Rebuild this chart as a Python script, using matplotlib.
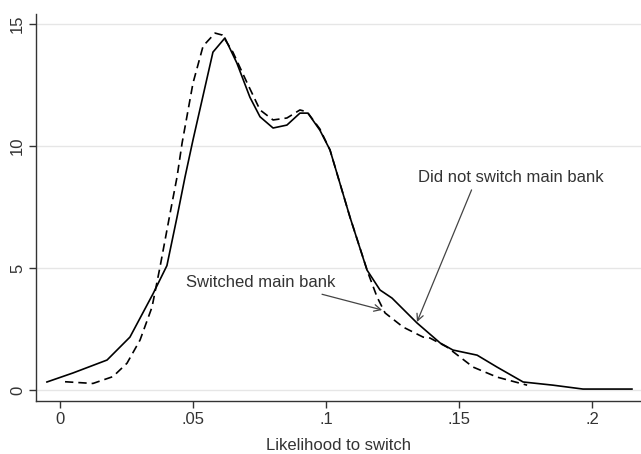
import matplotlib.pyplot as plt

plt.rcParams['font.family'] = ['Liberation Sans', 'DejaVu Sans']

# kernel density, did not switch main bank (solid)
x_stay = [-0.0049, 0.0049, 0.0177, 0.0263, 0.035, 0.0402, 0.044, 0.047, 0.05,
          0.0575, 0.062, 0.0665, 0.0714, 0.0752, 0.0801, 0.0853, 0.0902, 0.0932,
          0.0977, 0.1015, 0.109, 0.1154, 0.1203, 0.1248, 0.1342, 0.1429, 0.1477,
          0.1568, 0.1643, 0.1741, 0.1853, 0.1966, 0.215]
y_stay = [0.33, 0.70, 1.23, 2.17, 3.95, 5.1, 7.09, 8.73, 10.25,
          13.85, 14.43, 13.4, 12.0, 11.2, 10.74, 10.86, 11.35, 11.35,
          10.65, 9.84, 7.09, 4.92, 4.10, 3.77, 2.75, 1.93, 1.64,
          1.43, 0.94, 0.33, 0.2, 0.04, 0.04]

# switched main bank (dashed)
x_switch = [0.0019, 0.0124, 0.0199, 0.0252, 0.0301, 0.0346, 0.0376, 0.0414, 0.044,
            0.0459, 0.05, 0.0538, 0.0583, 0.061, 0.065, 0.0703, 0.0752, 0.0801,
            0.0853, 0.0902, 0.0929, 0.0977, 0.1015, 0.109, 0.1158, 0.1192, 0.1222,
            0.129, 0.1365, 0.1391, 0.1455, 0.1553, 0.1643, 0.1756]
y_switch = [0.34, 0.27, 0.55, 1.1, 2.05, 3.4, 5.04, 7.25, 8.73,
            10.12, 12.58, 14.1, 14.63, 14.55, 13.85, 12.6, 11.48, 11.07,
            11.15, 11.48, 11.4, 10.7, 9.84, 7.09, 4.8, 3.81, 3.16,
            2.58, 2.17, 2.13, 1.76, 0.94, 0.53, 0.2]

xticks = [0, 0.05, 0.1, 0.15, 0.2]
xtick_labels = ['0', '.05', '.1', '.15', '.2']
yticks = [0, 5, 10, 15]

fig = plt.figure(figsize=(6.41, 4.54), dpi=100)
ax = fig.add_axes([0.0562, 0.1167, 0.9438, 0.8523])

ax.plot(x_stay, y_stay, color='black', lw=1.2)
ax.plot(x_switch, y_switch, color='black', lw=1.2, ls=(0, (5, 3)))

ax.set_xlim(-0.009, 0.2184)
ax.set_ylim(-0.45, 15.41)
ax.set_xticks(xticks)
ax.set_xticklabels(xtick_labels)
ax.set_yticks(yticks)
ax.set_yticklabels([str(v) for v in yticks], rotation=90, va='center')
ax.grid(axis='y', color='#e6e6e6', lw=1)
ax.set_axisbelow(True)
for s in ['top', 'right']:
    ax.spines[s].set_visible(False)
for s in ['left', 'bottom']:
    ax.spines[s].set_color('#333333')
    ax.spines[s].set_linewidth(1.0)
ax.tick_params(length=5, width=1, color='#333333', labelsize=12, labelcolor='#333333', pad=3)
ax.set_xlabel('Likelihood to switch', fontsize=12, color='#333333', labelpad=8)

ax.annotate('Did not switch main bank', xy=(0.1342, 2.79), xytext=(0.1695, 8.73),
            fontsize=12, color='#333333', ha='center', va='center',
            arrowprops=dict(arrowstyle='->', color='#444444', lw=0.9, shrinkA=2, shrinkB=0,
                            relpos=(0.3, 0.0)))
ax.annotate('Switched main bank', xy=(0.1211, 3.28), xytext=(0.0756, 4.39),
            fontsize=12, color='#333333', ha='center', va='center',
            arrowprops=dict(arrowstyle='->', color='#444444', lw=0.9, shrinkA=3, shrinkB=0,
                            relpos=(0.81, 0.0)))

fig.savefig('out.png', dpi=100)
